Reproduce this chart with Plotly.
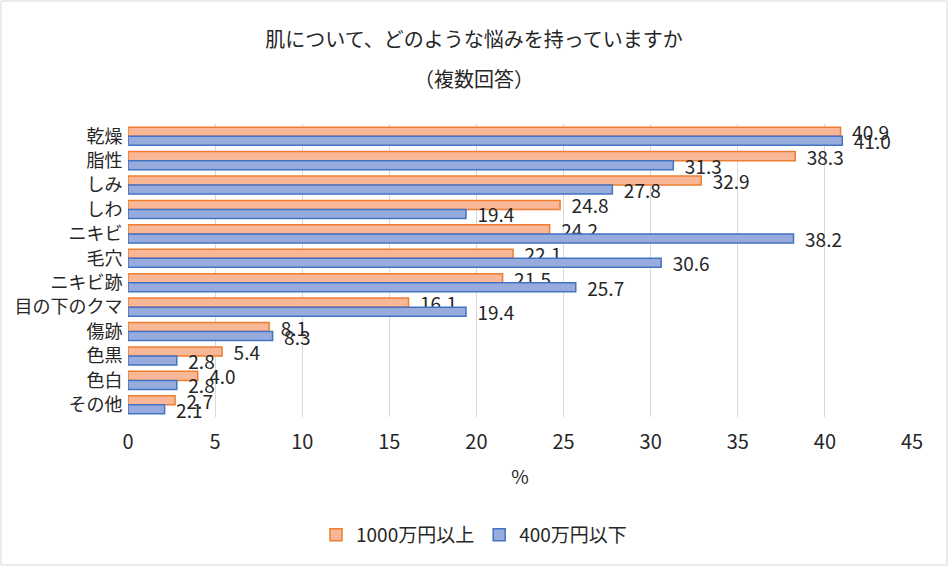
import plotly.graph_objects as go

categories = ["乾燥", "脂性", "しみ", "しわ", "ニキビ", "毛穴", "ニキビ跡", "目の下のクマ", "傷跡", "色黒", "色白", "その他"]
high_income = [40.9, 38.3, 32.9, 24.8, 24.2, 22.1, 21.5, 16.1, 8.1, 5.4, 4.0, 2.7]
low_income = [41.0, 31.3, 27.8, 19.4, 38.2, 30.6, 25.7, 19.4, 8.3, 2.8, 2.8, 2.1]
series_names = ["1000万円以上", "400万円以下"]
x_ticks = [0, 5, 10, 15, 20, 25, 30, 35, 40, 45]
title_line1 = "肌について、どのような悩みを持っていますか"
title_line2 = "（複数回答）"

FONT = "Noto Sans CJK JP"
TXT = "#262626"

fig = go.Figure()
fig.add_trace(go.Bar(
    y=categories, x=high_income, orientation="h", name=series_names[0],
    marker=dict(color="#F8B796", line=dict(color="#ED7D31", width=1.5)),
    texttemplate="  %{x:.1f}", textposition="outside", constraintext="none",
    cliponaxis=False, textfont=dict(size=19, color=TXT, family=FONT),
))
fig.add_trace(go.Bar(
    y=categories, x=low_income, orientation="h", name=series_names[1],
    marker=dict(color="#97ACDD", line=dict(color="#4472C4", width=1.5)),
    texttemplate="  %{x:.1f}", textposition="outside", constraintext="none",
    cliponaxis=False, textfont=dict(size=19, color=TXT, family=FONT),
))

W, H = 948, 566
L, R, T, B = 128, 36, 124, 149
pw, ph = W - L - R, H - T - B
cx = (W / 2 - L) / pw  # paper x of the figure's horizontal centre

fig.update_layout(
    width=W, height=H,
    margin=dict(l=L, r=R, t=T, b=B, pad=0),
    paper_bgcolor="white", plot_bgcolor="white",
    font=dict(family=FONT, color=TXT),
    barmode="group", bargap=0.26, bargroupgap=0,
    title=dict(
        text=title_line1,
        x=0.5, xanchor="center", y=1 - 40 / H, yanchor="middle",
        font=dict(size=20, color=TXT, family=FONT),
    ),
    xaxis=dict(
        range=[0, 45], tickvals=x_ticks, showgrid=True, gridcolor="#D9D9D9", gridwidth=1,
        zeroline=False, showline=False, automargin=False,
        ticks="outside", ticklen=7, tickcolor="rgba(0,0,0,0)",
        tickfont=dict(size=20, color=TXT),
        title=dict(text="%", font=dict(size=19, color=TXT), standoff=16),
    ),
    yaxis=dict(
        autorange="reversed", showgrid=False, showline=False, automargin=False,
        ticks="outside", ticklen=1, tickcolor="rgba(0,0,0,0)",
        tickfont=dict(size=18, color=TXT),
    ),
    legend=dict(
        orientation="h", x=cx, xanchor="center", y=(T + ph - 535) / ph, yanchor="middle",
        font=dict(size=19, color=TXT), itemwidth=30, traceorder="normal",
    ),
    showlegend=True,
)

fig.add_annotation(
    text=title_line2, xref="paper", yref="paper", x=cx,
    y=(T + ph - 78) / ph, xanchor="center", yanchor="middle", showarrow=False,
    font=dict(size=20, color=TXT, family=FONT),
)

fig.add_shape(
    type="rect", xref="paper", yref="paper",
    x0=-(L - 1) / pw, x1=(W - L - 1) / pw,
    y0=-(B - 1) / ph, y1=(ph + T - 1) / ph,
    line=dict(color="#D9D9D9", width=1), layer="below",
)

fig.write_html("out.html", config={"displayModeBar": False},
               post_script="document.body.style.margin='0px';")
